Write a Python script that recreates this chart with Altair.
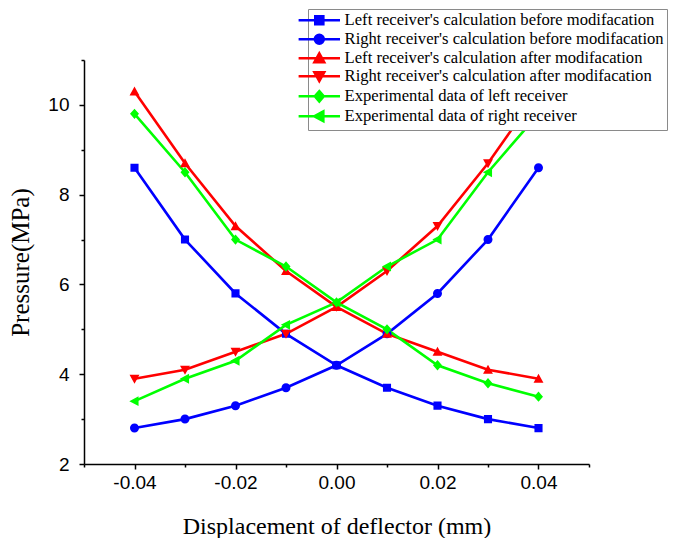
import altair as alt
import pandas as pd

# ---- data ----
displacement = [-0.04, -0.03, -0.02, -0.01, 0.0, 0.01, 0.02, 0.03, 0.04]
left_before = [8.6, 7.0, 5.8, 4.9, 4.2, 3.7, 3.3, 3.0, 2.8]
right_before = [2.8, 3.0, 3.3, 3.7, 4.2, 4.9, 5.8, 7.0, 8.6]
left_after = [10.3, 8.7, 7.3, 6.3, 5.5, 4.9, 4.5, 4.1, 3.9]
right_after = [3.9, 4.1, 4.5, 4.9, 5.5, 6.3, 7.3, 8.7, 10.3]
exp_left = [9.8, 8.5, 7.0, 6.4, 5.6, 5.0, 4.2, 3.8, 3.5]
exp_right = [3.4, 3.9, 4.3, 5.1, 5.6, 6.4, 7.0, 8.5, 9.8]

series_names = [
    "Left receiver's calculation before modifacation",
    "Right receiver's calculation before modifacation",
    "Left receiver's calculation after modifacation",
    "Right receiver's calculation after modifacation",
    "Experimental data of left receiver",
    "Experimental data of right receiver",
]
series_values = [left_before, right_before, left_after, right_after, exp_left, exp_right]
series_colors = ["#0000ff", "#0000ff", "#ff0000", "#ff0000", "#00ff00", "#00ff00"]

x_major = [-0.04, -0.02, 0.0, 0.02, 0.04]
x_minor = [-0.05, -0.03, -0.01, 0.01, 0.03, 0.05]
y_major = [2, 4, 6, 8, 10]
y_minor = [3, 5, 7, 9, 11]

rows = []
for i, (name, vals) in enumerate(zip(series_names, series_values)):
    for xv, yv in zip(displacement, vals):
        rows.append({"series": name, "order": i, "x": xv, "y": yv})
df = pd.DataFrame(rows)

# marker shapes as SVG paths (unit coords); the leading zero-area line segment is only
# visible where a stroke is drawn, i.e. in the legend (a line through the marker)
seg = "M-4.6,0H4.6"
marker_paths = [
    seg + "M-0.9,-0.9H0.9V0.9H-0.9Z",                       # square
    seg + "M-1,0A1,1 0 1,0 1,0A1,1 0 1,0 -1,0Z",             # circle
    seg + "M0,-1.1L1.1,0.9L-1.1,0.9Z",                      # triangle up
    seg + "M0,1.1L1.1,-0.9L-1.1,-0.9Z",                     # triangle down
    seg + "M0,-1.15L1,0L0,1.15L-1,0Z",                      # diamond
    seg + "M-1.15,0L0.9,-1.1L0.9,1.1Z",                     # triangle left
]

W, H = 505, 404
xdom = [-0.05, 0.05]
ydom = [2, 11]
SANS = "Liberation Sans"
SERIF = "Liberation Serif"
label_expr = "(datum.value < 0 ? '-' : '') + format(abs(datum.value), '.2f')"

legend = alt.Legend(
    title=None, orient="none", legendX=224, legendY=-51,
    symbolSize=81, symbolStrokeWidth=2.5,
    labelFont=SERIF, labelFontSize=16.6, labelColor="black", labelOffset=17,
    labelLimit=500, rowPadding=-1.0, padding=3,
    strokeColor="#8a8a8a", fillColor="white", cornerRadius=0,
)

base = alt.Chart(df)

lines = base.mark_line(strokeWidth=2.6).encode(
    x=alt.X("x:Q", scale=alt.Scale(domain=xdom, nice=False, zero=False),
            axis=alt.Axis(values=x_major, labelExpr=label_expr, title="Displacement of deflector (mm)",
                          orient="bottom", grid=False, tickSize=5, tickWidth=1.5, domainWidth=1.5,
                          domainColor="black", tickColor="black", labelColor="black",
                          labelFont=SANS, labelFontSize=19, labelPadding=4,
                          titleFont=SERIF, titleFontSize=24, titleFontWeight="normal",
                          titleColor="black", titlePadding=22)),
    y=alt.Y("y:Q", scale=alt.Scale(domain=ydom, nice=False, zero=False),
            axis=alt.Axis(values=y_major, format="d", title="Pressure(MPa)", orient="left",
                          grid=False, tickSize=5, tickWidth=1.5, domainWidth=1.5,
                          domainColor="black", tickColor="black", labelColor="black",
                          labelFont=SANS, labelFontSize=19, labelPadding=10,
                          titleFont=SERIF, titleFontSize=25, titleFontWeight="normal",
                          titleColor="black", titlePadding=14)),
    color=alt.Color("order:N", scale=alt.Scale(domain=list(range(len(series_names))), range=series_colors),
                    legend=None),
    detail="series:N",
    order="order:Q",
)

points = base.mark_point(filled=True, opacity=1).encode(
    x=alt.X("x:Q", scale=alt.Scale(domain=xdom, nice=False, zero=False),
            axis=alt.Axis(values=x_minor, labels=False, domain=False, grid=False, title=None,
                          orient="bottom", tickSize=3, tickWidth=1.5, tickColor="black")),
    y=alt.Y("y:Q", scale=alt.Scale(domain=ydom, nice=False, zero=False),
            axis=alt.Axis(values=y_minor, labels=False, domain=False, grid=False, title=None,
                          orient="left", tickSize=3, tickWidth=1.5, tickColor="black")),
    fill=alt.Fill("series:N", scale=alt.Scale(domain=series_names, range=series_colors), legend=legend),
    stroke=alt.Stroke("series:N", scale=alt.Scale(domain=series_names, range=series_colors), legend=legend),
    shape=alt.Shape("series:N", scale=alt.Scale(domain=series_names, range=marker_paths), legend=legend),
    size=alt.value(81),
    strokeWidth=alt.value(0),
)

chart = alt.layer(lines, points).resolve_axis(
    x="independent", y="independent"
).properties(
    width=W, height=H, padding=0
).configure_view(stroke=None)

chart.save("out.html", embed_options={"renderer": "svg", "actions": False})
